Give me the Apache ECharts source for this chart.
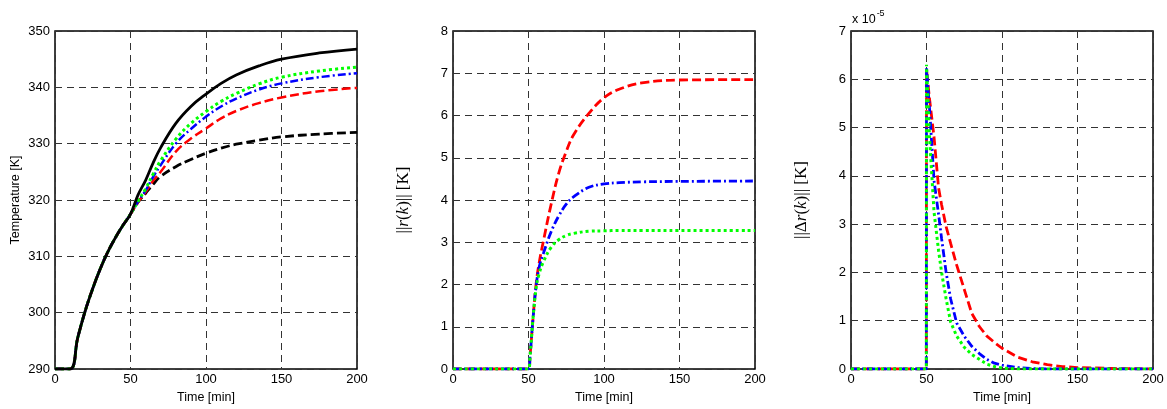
<!DOCTYPE html>
<html>
<head>
<meta charset="utf-8">
<script src="https://cdn.jsdelivr.net/npm/echarts@6/dist/echarts.min.js"></script>
<style>
  html, body { margin: 0; padding: 0; background: #fff; }
  #chart { width: 1167px; height: 409px; }
</style>
</head>
<body>
<div id="chart"></div>
<script>
// left panel: temperature
var tTemp = [0, 10, 15, 20, 25, 30, 35, 40, 45, 50, 55, 60, 65, 70, 80, 90, 100, 110, 120, 135, 150, 175, 200];
var tempCommon = [290, 290, 295.5, 300.3, 304.3, 307.8, 310.8, 313.3, 315.5, 317.5];
var tempBlackSolid = [320.9, 323.5, 326.6, 329.3, 333.6, 336.6, 338.8, 340.7, 342.2, 343.8, 345.0, 346.1, 346.8];
var tempGreen = [319.8, 322.0, 324.6, 327.0, 330.8, 333.6, 335.7, 337.5, 338.9, 340.6, 341.8, 342.9, 343.6];
var tempBlue = [319.7, 321.7, 324.1, 326.2, 330.0, 332.6, 334.8, 336.6, 338.0, 339.6, 340.7, 341.8, 342.5];
var tempRed = [319.6, 321.4, 323.4, 325.0, 328.6, 330.9, 332.7, 334.5, 335.8, 337.2, 338.2, 339.3, 339.9];
var tempBlackDash = [319.6, 321.2, 322.8, 324.2, 325.9, 327.2, 328.3, 329.2, 329.9, 330.6, 331.2, 331.7, 332.0];

// middle panel: ||r(k)||
var tR = [0, 50, 51, 53, 55, 57, 60, 65, 70, 75, 80, 90, 100, 110, 125, 150, 200];
var rRed = [0, 0, 0.3, 1.2, 2.0, 2.5, 3.05, 3.9, 4.63, 5.15, 5.55, 6.05, 6.42, 6.62, 6.77, 6.84, 6.85];
var rBlue = [0, 0, 0.3, 1.2, 1.95, 2.4, 2.75, 3.25, 3.62, 3.9, 4.08, 4.3, 4.38, 4.41, 4.43, 4.44, 4.45];
var rGreen = [0, 0, 0.3, 1.2, 1.9, 2.25, 2.55, 2.88, 3.06, 3.16, 3.21, 3.26, 3.27, 3.28, 3.28, 3.28, 3.28];

// right panel: ||dr(k)|| in units of 1e-5
var tD = [0, 49.9, 50, 52, 55, 58, 60, 63, 66, 70, 75, 80, 85, 90, 95, 100, 110, 120, 130, 140, 150, 175, 200];
var dRed = [0, 0, 6.2, 5.6, 4.8, 3.75, 3.4, 2.95, 2.6, 2.15, 1.65, 1.15, 0.88, 0.68, 0.55, 0.43, 0.25, 0.15, 0.09, 0.05, 0.03, 0.01, 0];
var dBlue = [0, 0, 6.25, 5.4, 3.9, 3.2, 2.7, 2.0, 1.45, 0.95, 0.68, 0.47, 0.32, 0.2, 0.12, 0.08, 0.03, 0.01, 0, 0, 0, 0, 0];
var dGreen = [0, 0, 6.3, 4.8, 3.25, 2.45, 2.0, 1.45, 0.97, 0.68, 0.45, 0.3, 0.2, 0.1, 0.05, 0.02, 0, 0, 0, 0, 0, 0, 0];

function pairs(t, v) {
  return t.map(function (x, i) { return [x, v[i]]; });
}
function branch(tail) {
  return pairs(tTemp, tempCommon.concat(tail));
}

var font = 'Liberation Sans, Arial, sans-serif';
var gridLine = { show: true, lineStyle: { color: '#333', type: [7, 5], width: 1 } };
var dashRed = [9, 4];
var dashDot = [8, 3, 2, 3];
var dots = [3, 3];

var grids = [
  { left: 55, width: 302, top: 31, bottom: 40 },
  { left: 453, width: 302, top: 31, bottom: 40 },
  { left: 851, width: 302, top: 31, bottom: 40 }
].map(function (g) {
  g.show = true; g.borderColor = '#000'; g.borderWidth = 1.5; g.backgroundColor = '#fff';
  return g;
});

var xAxes = [0, 1, 2].map(function (i) {
  return {
    type: 'value', gridIndex: i, min: 0, max: 200, interval: 50,
    name: 'Time [min]', nameLocation: 'middle', nameGap: 21,
    nameTextStyle: { fontFamily: font, fontSize: 12.5, color: '#000' },
    axisLine: { show: false }, axisTick: { show: false },
    axisLabel: { fontFamily: font, fontSize: 13, color: '#000', margin: 4 },
    splitLine: gridLine
  };
});

var serifRich = {
  n: { fontFamily: 'Liberation Serif, DejaVu Serif, serif', fontSize: 17, color: '#000' },
  i: { fontFamily: 'Liberation Serif, DejaVu Serif, serif', fontSize: 17, fontStyle: 'italic', color: '#000' }
};

var yAxes = [
  {
    type: 'value', gridIndex: 0, min: 290, max: 350, interval: 10,
    name: 'Temperature [K]', nameLocation: 'middle', nameGap: 33,
    nameTextStyle: { fontFamily: font, fontSize: 12.5, color: '#000' }
  },
  {
    type: 'value', gridIndex: 1, min: 0, max: 8, interval: 1,
    name: '{n|||}{i|r}{n|(}{i|k}{n|)|| [K]}', nameLocation: 'middle', nameGap: 41,
    nameTextStyle: { rich: serifRich }
  },
  {
    type: 'value', gridIndex: 2, min: 0, max: 7, interval: 1,
    name: '{n|||Δ}{i|r}{n|(}{i|k}{n|)|| [K]}', nameLocation: 'middle', nameGap: 41,
    nameTextStyle: { rich: serifRich }
  }
].map(function (a) {
  a.axisLine = { show: false };
  a.axisTick = { show: false };
  a.axisLabel = { fontFamily: font, fontSize: 13, color: '#000', margin: 5 };
  a.splitLine = gridLine;
  return a;
});

function line(idx, data, color, type, width, smooth) {
  return {
    type: 'line', xAxisIndex: idx, yAxisIndex: idx, data: data,
    showSymbol: false, smooth: smooth, animation: false,
    lineStyle: { color: color, type: type, width: width }
  };
}

var chart = echarts.init(document.getElementById('chart'));
chart.setOption({
  backgroundColor: '#fff',
  animation: false,
  grid: grids,
  xAxis: xAxes,
  yAxis: yAxes,
  graphic: [{
    type: 'text', left: 852, top: 9,
    style: {
      text: '{a|x 10}{b|-5}',
      rich: {
        a: { fontFamily: font, fontSize: 12.5, fill: '#000', padding: [6, 0, 0, 0] },
        b: { fontFamily: font, fontSize: 9, fill: '#000', padding: [0, 0, 6, 1] }
      }
    }
  }],
  series: [
    line(0, branch(tempBlackDash), '#000', dashRed, 2.8, 0.4),
    line(0, branch(tempRed), '#ff0000', dashRed, 2.5, 0.4),
    line(0, branch(tempBlue), '#0000ff', dashDot, 2.5, 0.4),
    line(0, branch(tempGreen), '#00ff00', dots, 3, 0.4),
    line(0, branch(tempBlackSolid), '#000', 'solid', 2.8, 0.4),
    line(1, pairs(tR, rRed), '#ff0000', dashRed, 2.8, 0.4),
    line(1, pairs(tR, rBlue), '#0000ff', dashDot, 2.8, 0.4),
    line(1, pairs(tR, rGreen), '#00ff00', dots, 3, 0.4),
    line(2, pairs(tD, dRed), '#ff0000', dashRed, 2.8, false),
    line(2, pairs(tD, dBlue), '#0000ff', dashDot, 2.8, false),
    line(2, pairs(tD, dGreen), '#00ff00', dots, 3, false)
  ]
});
</script>
</body>
</html>
